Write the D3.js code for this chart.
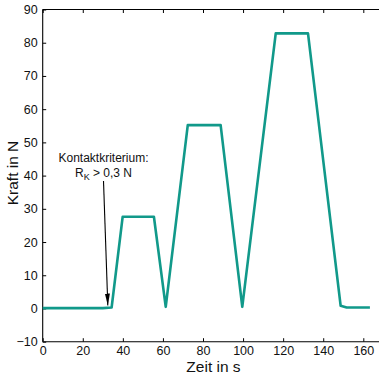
<!DOCTYPE html>
<html><head><meta charset="utf-8">
<script src="https://cdn.jsdelivr.net/npm/d3@7"></script>
<style>body{margin:0;background:#fff}svg{display:block}text{font-family:"Liberation Sans",Arial,sans-serif}</style>
</head><body>
<script>
const timeS = [0, 10, 20, 30, 34.4, 39.9, 45, 50, 55.5, 61.4, 72.4, 80, 88.8, 99.6, 116.3, 124, 132.4, 148.7, 151.7, 158, 163.3];
const forceN = [0.1, 0.1, 0.1, 0.1, 0.3, 27.6, 27.6, 27.6, 27.6, 0.5, 55.2, 55.2, 55.2, 0.5, 82.8, 82.8, 82.8, 0.8, 0.3, 0.3, 0.3];
const xTicks = [0, 20, 40, 60, 80, 100, 120, 140, 160];
const yTicks = [-10, 0, 10, 20, 30, 40, 50, 60, 70, 80, 90];
const annotation = {lines: ["Kontaktkriterium:", "R_K > 0,3 N"], target: [32.5, 0.9]};

const W = 379, H = 375;
const svg = d3.select("body").append("svg").attr("width", W).attr("height", H);
const x = d3.scaleLinear().domain([0, 160]).range([42.7, 363.3]);
const y = d3.scaleLinear().domain([-10, 90]).range([341.7, 9.5]);
const fmt = d => d < 0 ? "\u2212" + Math.abs(d) : String(d);

// frame
const fr = svg.append("g").attr("stroke", "#000").attr("stroke-width", 1.1);
fr.append("line").attr("x1", x(0)).attr("x2", W + 5).attr("y1", y(90)).attr("y2", y(90));
fr.append("line").attr("x1", x(0)).attr("x2", W + 5).attr("y1", y(-10)).attr("y2", y(-10));
fr.append("line").attr("x1", x(0)).attr("x2", x(0)).attr("y1", y(90)).attr("y2", y(-10));

// axes
const xb = svg.append("g").attr("transform", `translate(0,${y(-10)})`)
  .call(d3.axisBottom(x).tickValues(xTicks).tickSize(-3.5).tickPadding(4.8).tickFormat(fmt));
const xt = svg.append("g").attr("transform", `translate(0,${y(90)})`)
  .call(d3.axisTop(x).tickValues(xTicks).tickSize(-3.5).tickFormat(""));
const yl = svg.append("g").attr("transform", `translate(${x(0)},0)`)
  .call(d3.axisLeft(y).tickValues(yTicks).tickSize(-3.5).tickPadding(5).tickFormat(fmt));
[xb, xt, yl].forEach(g => {
  g.select(".domain").remove();
  g.selectAll(".tick line").attr("stroke", "#000").attr("stroke-width", 1);
  g.selectAll("text").attr("fill", "#111").style("font-size", "12.5px").style("font-family", '"Liberation Sans",Arial,sans-serif');
});

// data line
svg.append("path").datum(timeS.map((t, i) => [t, forceN[i]]))
  .attr("fill", "none").attr("stroke", "#11998a").attr("stroke-width", 2.6)
  .attr("stroke-linejoin", "round")
  .attr("d", d3.line().x(d => x(d[0])).y(d => y(d[1])));

// annotation
const tx = 103.5;
svg.append("text").attr("x", tx).attr("y", 162).attr("text-anchor", "middle")
  .style("font-size", "12px").attr("fill", "#111").text(annotation.lines[0]);
const t2 = svg.append("text").attr("x", tx).attr("y", 177).attr("text-anchor", "middle")
  .style("font-size", "12px").attr("fill", "#111");
t2.append("tspan").text("R");
t2.append("tspan").attr("dy", 3).style("font-size", "9px").text("K");
t2.append("tspan").attr("dy", -3).text(" > 0,3 N");

svg.append("defs").append("marker").attr("id", "ah").attr("viewBox", "0 0 12 5")
  .attr("refX", 12).attr("refY", 2.5).attr("markerWidth", 12).attr("markerHeight", 5)
  .attr("markerUnits", "userSpaceOnUse").attr("orient", "auto")
  .append("path").attr("d", "M0,0 L12,2.5 L0,5 Z").attr("fill", "#000");
svg.append("line").attr("x1", 103.5).attr("y1", 181)
  .attr("x2", x(annotation.target[0])).attr("y2", y(annotation.target[1]))
  .attr("stroke", "#000").attr("stroke-width", 1.1).attr("marker-end", "url(#ah)");

// labels
svg.append("text").attr("x", 213.5).attr("y", 371.5).attr("text-anchor", "middle")
  .style("font-size", "15.5px").attr("fill", "#111").text("Zeit in s");
svg.append("text").attr("transform", `translate(18,173) rotate(-90)`).attr("text-anchor", "middle")
  .style("font-size", "15.5px").attr("fill", "#111").text("Kraft in N");
</script>
</body></html>
